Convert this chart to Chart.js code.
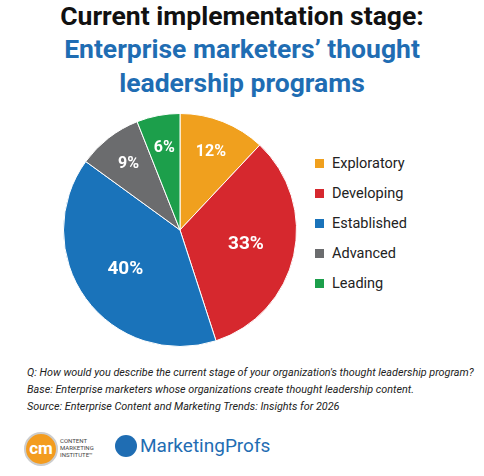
<!DOCTYPE html>
<html><head><meta charset="utf-8">
<script src="https://cdn.jsdelivr.net/npm/chart.js@4"></script>
<style>
body{margin:0;width:484px;height:476px;background:#fff;font-family:Roboto,"Noto Sans",sans-serif;position:relative;overflow:hidden}
.t{position:absolute;left:0;width:484px;text-align:center;font-weight:700;font-family:Roboto,sans-serif}
#chartBox{position:absolute;left:61px;top:111px;width:238px;height:238px}
#legend{position:absolute;left:315px;top:148px;font-size:14.5px;color:#222}
#legend div{height:30px;display:flex;align-items:center}
#legend span{display:inline-block;width:9px;height:9px;margin-right:8px}
.note{position:absolute;left:27px;font-size:10.8px;font-style:italic;color:#222}
</style></head><body>
<div class="t" style="top:0px;font-size:26.5px;color:#111">Current implementation stage:</div>
<div class="t" style="top:33px;font-size:26.5px;color:#1f6db3">Enterprise marketers’ thought</div>
<div class="t" style="top:67px;font-size:26.5px;color:#1f6db3">leadership programs</div>
<div id="chartBox"><canvas id="pie"></canvas></div>
<div id="legend"></div>
<div class="note" style="top:366px">Q: How would you describe the current stage of your organization's thought leadership program?</div>
<div class="note" style="top:383px">Base: Enterprise marketers whose organizations create thought leadership content.</div>
<div class="note" style="top:400px">Source: Enterprise Content and Marketing Trends: Insights for 2026</div>
<div style="position:absolute;left:24px;top:432px;width:30px;height:30px;border-radius:50%;background:#f39c1f;border:2px solid #ccc;color:#fff;font-weight:700;font-size:17px;line-height:29px;text-align:center">cm</div>
<div style="position:absolute;left:60px;top:437px;font-size:6px;line-height:7px;color:#444">CONTENT<br>MARKETING<br>INSTITUTE™</div>
<div style="position:absolute;left:115px;top:435px;width:22px;height:22px;border-radius:50%;background:#1f6db3"></div>
<div style="position:absolute;left:140px;top:434px;font-size:19px;color:#1f6db3">MarketingProfs</div>
<script>
const categories = ['Exploratory','Developing','Established','Advanced','Leading'];
const values = [12,33,40,9,6];
const colors = ['#f0a01e','#d6282e','#1a73ba','#6b6c6e','#1c9f4b'];

const lg = document.getElementById('legend');
categories.forEach((c,i)=>{lg.innerHTML += `<div><span style="background:${colors[i]}"></span>${c}</div>`;});

const labelPlugin = {
  id:'labels',
  afterDatasetsDraw(chart){
    const ctx = chart.ctx;
    chart.getDatasetMeta(0).data.forEach((arc,i)=>{
      const big = values[i] > 20;
      const mid = (arc.startAngle+arc.endAngle)/2;
      const r = arc.outerRadius*(big?0.58:0.72);
      ctx.save();
      ctx.fillStyle='#fff';
      ctx.font = `bold ${big?19:16}px Roboto, sans-serif`;
      ctx.textAlign='center';ctx.textBaseline='middle';
      ctx.fillText(values[i]+'%', arc.x+Math.cos(mid)*r, arc.y+Math.sin(mid)*r);
      ctx.restore();
    });
  }
};

new Chart(document.getElementById('pie'),{
  type:'pie',
  data:{labels:categories,datasets:[{data:values,backgroundColor:colors,borderColor:'#fff',borderWidth:1}]},
  options:{responsive:true,maintainAspectRatio:false,animation:false,
    plugins:{legend:{display:false},tooltip:{enabled:false}},layout:{padding:2}},
  plugins:[labelPlugin]
});
</script>
</body></html>
